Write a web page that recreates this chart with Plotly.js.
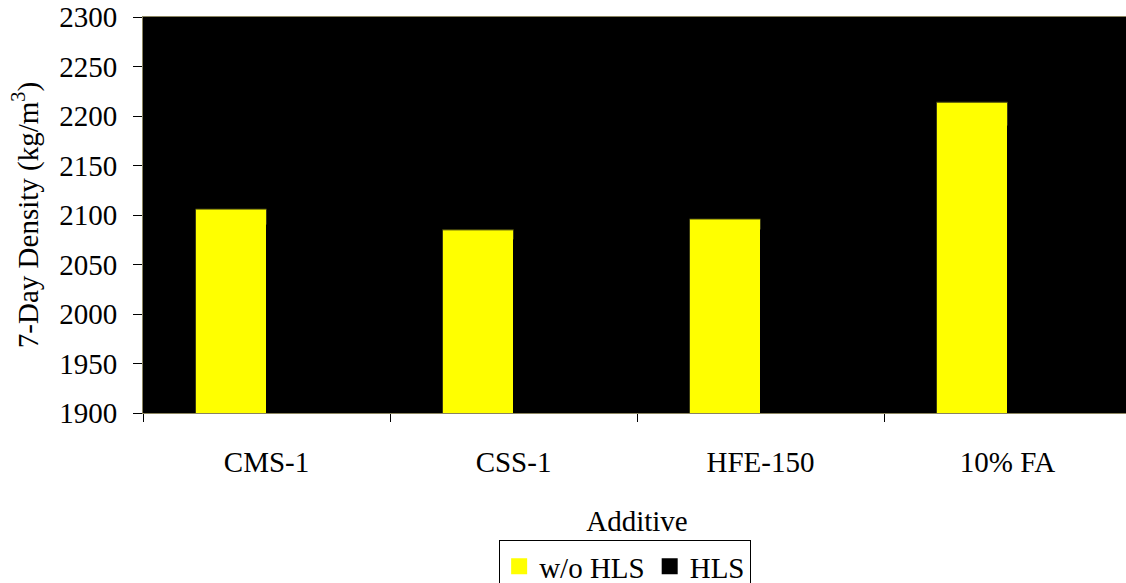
<!DOCTYPE html>
<html>
<head>
<meta charset="utf-8">
<script src="https://cdn.plot.ly/plotly-3.0.1.min.js"></script>
<style>
  html, body { margin: 0; padding: 0; overflow: hidden; background: #fff; width: 1126px; height: 583px; }
  #chart { width: 1131px; height: 640px; }
</style>
</head>
<body>
<div id="chart"></div>
<script>
// 7-day density by additive, with and without HLS
const additives = ["CMS-1", "CSS-1", "HFE-150", "10% FA"];
const densityWithoutHLS = [2106, 2085, 2096, 2214];
const densityWithHLS = [2090, 2075, 2085, 2190];
const seriesNames = ["w/o HLS", "HLS"];
const seriesColors = ["#ffff00", "#000000"];
const seriesEdges = ["#3a3a10", "#000000"];

const serif = "Liberation Serif, Times New Roman, serif";
const fontSize = 29;

const seriesValues = [densityWithoutHLS, densityWithHLS];

const traces = [];
// bars
seriesValues.forEach((vals, i) => {
  traces.push({
    type: "bar",
    name: seriesNames[i],
    legendgroup: seriesNames[i],
    showlegend: false,
    x: additives,
    y: vals,
    marker: { color: seriesColors[i], line: { color: seriesEdges[i], width: 1 } },
    hoverinfo: "x+y"
  });
});
// legend keys drawn as larger squares than the default bar swatch
seriesValues.forEach((vals, i) => {
  traces.push({
    type: "scatter",
    mode: "markers",
    name: seriesNames[i],
    legendgroup: seriesNames[i],
    x: [null],
    y: [null],
    marker: { symbol: "square", size: 18, color: seriesColors[i], line: { width: 0 } },
    hoverinfo: "skip"
  });
});

const layout = {
  width: 1131,
  height: 640,
  margin: { l: 143, r: 0, t: 17, b: 227 },
  paper_bgcolor: "#ffffff",
  plot_bgcolor: "#000000",
  barmode: "group",
  bargap: 0.425,
  bargroupgap: 0,
  showlegend: true,
  font: { family: serif, size: fontSize, color: "#000" },
  xaxis: {
    type: "category",
    showgrid: false,
    zeroline: false,
    showline: true,
    linecolor: "#8a8460",
    linewidth: 1,
    mirror: true,
    ticks: "outside",
    tickson: "boundaries",
    ticklen: 8,
    tickcolor: "#000",
    ticklabelstandoff: 23,
    tickfont: { family: serif, size: fontSize, color: "#000" },
    title: { text: "Additive", font: { family: serif, size: fontSize, color: "#000" }, standoff: 33 }
  },
  yaxis: {
    range: [1900, 2300],
    dtick: 50,
    showgrid: false,
    zeroline: false,
    showline: true,
    linecolor: "#8a8460",
    linewidth: 1,
    mirror: true,
    ticks: "outside",
    ticklen: 9,
    tickcolor: "#000",
    ticklabelstandoff: 10,
    tickfont: { family: serif, size: fontSize, color: "#000" },
    title: { text: "7-Day Density (kg/m<sup>3</sup>)", font: { family: serif, size: fontSize, color: "#000" }, standoff: 12 }
  },
  legend: {
    orientation: "h",
    x: 0.488,
    xanchor: "center",
    y: -0.3207,
    yanchor: "top",
    bordercolor: "#000",
    borderwidth: 1,
    bgcolor: "#fff",
    itemsizing: "trace",
    font: { family: serif, size: fontSize, color: "#000" },
    itemwidth: 30,
    tracegroupgap: 0
  }
};

Plotly.newPlot("chart", traces, layout, { displayModeBar: false, staticPlot: true });
</script>
</body>
</html>
